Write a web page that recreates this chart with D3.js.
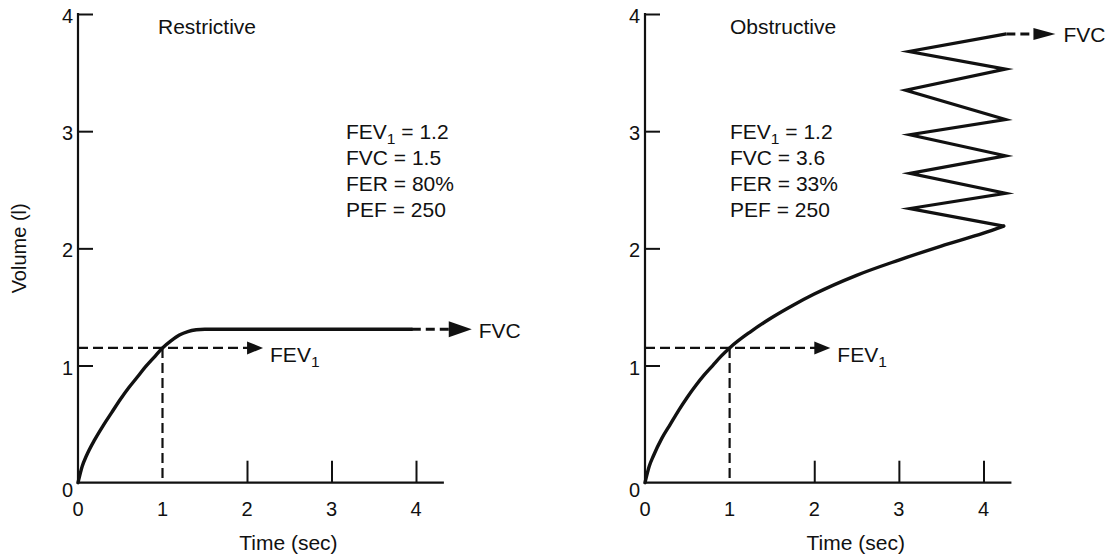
<!DOCTYPE html>
<html>
<head>
<meta charset="utf-8">
<script src="https://cdn.jsdelivr.net/npm/d3@7/dist/d3.min.js"></script>
<style>
  html, body { margin: 0; padding: 0; background: #fff; }
  svg text { font-family: "Liberation Sans", Arial, Helvetica, sans-serif; fill: #111; white-space: pre; }
</style>
</head>
<body>
<svg id="chart" width="1112" height="557"></svg>
<script>
// Axis ticks (litres / seconds)
const timeTicks = [0, 1, 2, 3, 4];
const volumeTicks = [0, 1, 2, 3, 4];

// Restrictive spirogram: volume (l) against time (s)
const restrictiveTime   = [0, 0.05, 0.1, 0.2, 0.3, 0.4, 0.5, 0.6, 0.7, 0.8, 0.9, 1.0, 1.1, 1.2, 1.3, 1.4, 1.5, 1.7, 3.95];
const restrictiveVolume = [0, 0.14, 0.23, 0.37, 0.49, 0.6, 0.71, 0.81, 0.9, 0.99, 1.07, 1.15, 1.21, 1.26, 1.29, 1.305, 1.31, 1.31, 1.31];

// Obstructive spirogram: smooth expiration, then the prolonged tail drawn as a zigzag
const obstructiveTime   = [0, 0.05, 0.1, 0.2, 0.3, 0.4, 0.5, 0.6, 0.7, 0.8, 0.9, 1.0, 1.25, 1.5, 1.75, 2.0, 2.5, 3.0, 3.5, 4.0, 4.24];
const obstructiveVolume = [0, 0.14, 0.23, 0.38, 0.5, 0.62, 0.73, 0.83, 0.92, 1.0, 1.08, 1.15, 1.29, 1.41, 1.515, 1.61, 1.77, 1.9, 2.02, 2.13, 2.19];
const zigzagTime   = [4.24, 3.13, 4.26, 3.13, 4.26, 3.13, 4.26, 3.08, 4.26, 3.12, 4.27];
const zigzagVolume = [2.19, 2.34, 2.47, 2.64, 2.79, 2.97, 3.10, 3.35, 3.53, 3.68, 3.83];

// FEV1 reference at t = 1 s and the FEV1 / FVC arrow tips (time units)
const fev1Volume = [1.15, 1.15];
const fev1ArrowTip = [2.19, 2.19];
const fvcArrowTip = [4.66, 4.85];

// Panel titles and summary text
const panelTitles = ["Restrictive", "Obstructive"];
const summaryLabels = [
  [["FEV", "1", " = 1.2"], ["FVC = 1.5"], ["FER = 80%"], ["PEF = 250"]],
  [["FEV", "1", " = 1.2"], ["FVC = 3.6"], ["FER = 33%"], ["PEF = 250"]]
];

const svg = d3.select("#chart");
const ink = "#111";
const textSize = 21;
const tickSize = 20;

const y = d3.scaleLinear().domain([0, 4]).range([482.7, 14]);
const panels = [
  { x: d3.scaleLinear().domain([0, 4]).range([78, 416]), axisEnd: 4.33, titleX: 158, textX: 346 },
  { x: d3.scaleLinear().domain([0, 4]).range([645, 983.5]), axisEnd: 4.33, titleX: 730, textX: 730 }
];

function arrowHead(g, tipX, tipY, len, half) {
  g.append("path")
    .attr("d", `M${tipX},${tipY}L${tipX - len},${tipY - half}L${tipX - len},${tipY + half}Z`)
    .attr("fill", ink);
}

function fevLabel(g, x0, y0, parts, size) {
  const t = g.append("text").attr("x", x0).attr("y", y0).attr("font-size", size);
  t.append("tspan").text(parts[0]);
  if (parts.length > 1) {
    t.append("tspan").attr("dy", 5).attr("font-size", size * 0.74).text(parts[1]);
    t.append("tspan").attr("dy", -5).text(parts[2]);
  }
  return t;
}

panels.forEach((p, i) => {
  const g = svg.append("g");
  const x = p.x;

  // y axis with inward ticks
  const yAxis = g.append("g").attr("transform", `translate(${x(0)},0)`)
    .call(d3.axisRight(y).tickValues(volumeTicks).tickSize(15).tickFormat(""));
  yAxis.select(".domain").attr("d", `M0,${y(0)}V${y(4) - 1}`).attr("stroke", ink).attr("stroke-width", 2.2);
  yAxis.selectAll(".tick line").attr("stroke", ink).attr("stroke-width", 2)
    .filter(d => d === 0).remove();
  yAxis.selectAll(".tick line").filter(d => d === 4).attr("x1", -1);

  // y tick labels, left of the axis
  g.selectAll(".ylab").data(volumeTicks).join("text")
    .attr("x", x(0) - 5)
    .attr("y", d => d === 0 ? y(d) + 14 : y(d) + 9)
    .attr("text-anchor", "end")
    .attr("font-size", tickSize)
    .text(d => d);

  // x axis with inward ticks
  const xAxis = g.append("g").attr("transform", `translate(0,${y(0)})`)
    .call(d3.axisTop(x).tickValues(timeTicks).tickSize(22).tickFormat(""));
  xAxis.select(".domain").attr("d", `M${x(0) - 1},0H${x(p.axisEnd)}`).attr("stroke", ink).attr("stroke-width", 2.2);
  xAxis.selectAll(".tick line").attr("stroke", ink).attr("stroke-width", 2)
    .filter(d => d < 2).remove();

  g.selectAll(".xlab").data(timeTicks).join("text")
    .attr("x", d => x(d))
    .attr("y", 515.5)
    .attr("text-anchor", "middle")
    .attr("font-size", tickSize)
    .text(d => d);

  g.append("text").attr("x", x(2.49)).attr("y", 550).attr("text-anchor", "middle")
    .attr("font-size", textSize).text("Time (sec)");

  g.append("text").attr("x", p.titleX).attr("y", 34).attr("font-size", textSize).text(panelTitles[i]);

  summaryLabels[i].forEach((parts, k) => fevLabel(g, p.textX, 139 + k * 26, parts, textSize));

  // FEV1 dashed guides
  const fv = fev1Volume[i];
  g.append("path")
    .attr("d", `M${x(0)},${y(fv)}H${x(fev1ArrowTip[i]) - 14}M${x(1)},${y(fv)}V${y(0)}`)
    .attr("fill", "none").attr("stroke", ink).attr("stroke-width", 2.2).attr("stroke-dasharray", "10,5");
  arrowHead(g, x(fev1ArrowTip[i]), y(fv), 16, 6.5);
  fevLabel(g, x(fev1ArrowTip[i]) + 7, 362, ["FEV", "1", ""], textSize);
});

// Restrictive curve
const pL = panels[0], pR = panels[1];
const restrictiveData = restrictiveTime.map((t, k) => [t, restrictiveVolume[k]]);
svg.append("path")
  .attr("d", d3.line().x(d => pL.x(d[0])).y(d => y(d[1])).curve(d3.curveMonotoneX)(restrictiveData))
  .attr("fill", "none").attr("stroke", ink).attr("stroke-width", 3.4).attr("stroke-linecap", "round");

const rEnd = restrictiveData[restrictiveData.length - 1];
svg.append("path")
  .attr("d", `M${pL.x(rEnd[0])},${y(rEnd[1])}H${pL.x(fvcArrowTip[0]) - 22}`)
  .attr("fill", "none").attr("stroke", ink).attr("stroke-width", 3).attr("stroke-dasharray", "9,5");
arrowHead(svg, pL.x(fvcArrowTip[0]), y(rEnd[1]), 23, 8);
svg.append("text").attr("x", pL.x(fvcArrowTip[0]) + 7).attr("y", y(rEnd[1]) + 9)
  .attr("font-size", textSize).text("FVC");

// Obstructive curve
const obstructiveData = obstructiveTime.map((t, k) => [t, obstructiveVolume[k]]);
svg.append("path")
  .attr("d", d3.line().x(d => pR.x(d[0])).y(d => y(d[1])).curve(d3.curveMonotoneX)(obstructiveData))
  .attr("fill", "none").attr("stroke", ink).attr("stroke-width", 3.4).attr("stroke-linecap", "round");

const zigzagData = zigzagTime.map((t, k) => [t, zigzagVolume[k]]);
svg.append("path")
  .attr("d", d3.line().x(d => pR.x(d[0])).y(d => y(d[1]))(zigzagData))
  .attr("fill", "none").attr("stroke", ink).attr("stroke-width", 3.2)
  .attr("stroke-linejoin", "miter").attr("stroke-miterlimit", 10);

const zEnd = zigzagData[zigzagData.length - 1];
svg.append("path")
  .attr("d", `M${pR.x(zEnd[0])},${y(zEnd[1])}H${pR.x(fvcArrowTip[1]) - 22}`)
  .attr("fill", "none").attr("stroke", ink).attr("stroke-width", 3).attr("stroke-dasharray", "9,5");
arrowHead(svg, pR.x(fvcArrowTip[1]), y(zEnd[1]), 22, 6);
svg.append("text").attr("x", pR.x(fvcArrowTip[1]) + 8).attr("y", y(zEnd[1]) + 8)
  .attr("font-size", textSize).text("FVC");

// Shared y-axis title
svg.append("text")
  .attr("transform", `translate(26,${y(2)}) rotate(-90)`)
  .attr("text-anchor", "middle")
  .attr("font-size", 20)
  .text("Volume (l)");
</script>
</body>
</html>
